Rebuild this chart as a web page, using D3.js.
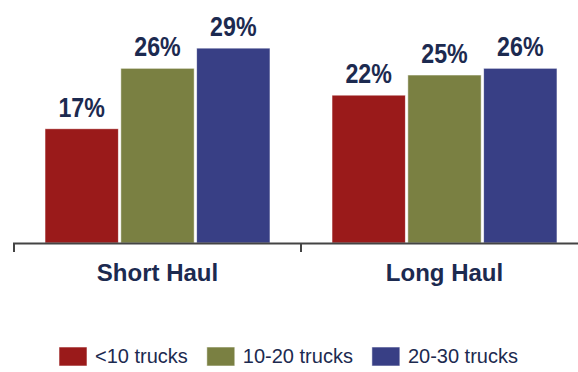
<!DOCTYPE html>
<html>
<head>
<meta charset="utf-8">
<script src="https://cdn.jsdelivr.net/npm/d3@7"></script>
<style>
  html, body { margin: 0; padding: 0; background: #ffffff; }
  svg { display: block; }
</style>
</head>
<body>
<svg id="chart" width="578" height="372"></svg>
<script>
// ---- data ----
const categories = ["Short Haul", "Long Haul"];
const seriesNames = ["<10 trucks", "10-20 trucks", "20-30 trucks"];
const shortHaul = [17, 26, 29];
const longHaul = [22, 25, 26];
const seriesColors = ["#9a1a1a", "#7a8042", "#383f85"];

const values = [shortHaul, longHaul];
const rows = [];
categories.forEach((c, ci) => {
  seriesNames.forEach((s, si) => rows.push({ cat: c, series: s, value: values[ci][si], si }));
});

const svg = d3.select("#chart");
const W = 578, H = 372;
const baseY = 243;
const textColor = "#1c2a50";

const x0 = d3.scaleBand().domain(categories).range([14, 588]).paddingInner(0).paddingOuter(0);
const x1 = d3.scaleBand().domain(seriesNames).range([31, 256]).paddingInner(0.033).paddingOuter(0);
const y = d3.scaleLinear().domain([0, 35]).range([baseY, baseY - 35 * 6.72]);
const color = d3.scaleOrdinal().domain(seriesNames).range(seriesColors);

// bars
svg.append("g").selectAll("rect").data(rows).join("rect")
  .attr("x", d => x0(d.cat) + x1(d.series))
  .attr("y", d => y(d.value))
  .attr("width", x1.bandwidth())
  .attr("height", d => y(0) - y(d.value))
  .attr("fill", d => color(d.series))
  .attr("stroke", "rgba(255,255,255,0.7)")
  .attr("stroke-width", 0.8);

// value labels
svg.append("g").selectAll("text").data(rows).join("text")
  .attr("transform", d => `translate(${x0(d.cat) + x1(d.series) + x1.bandwidth() / 2},${y(d.value) - 12}) scale(0.86,1)`)
  .attr("text-anchor", "middle")
  .attr("font-family", "'Liberation Sans', Arial, sans-serif")
  .attr("font-weight", "bold")
  .attr("font-size", 27)
  .attr("fill", textColor)
  .text(d => d.value + "%");

// x axis
const axis = d3.axisBottom(x0).tickSize(0).tickPadding(21);
const gx = svg.append("g").attr("transform", `translate(0,${baseY})`).call(axis);
gx.select(".domain").remove();
gx.selectAll("text")
  .attr("font-family", "'Liberation Sans', Arial, sans-serif")
  .attr("font-weight", "bold")
  .attr("font-size", 24)
  .attr("fill", textColor);

svg.append("line")
  .attr("x1", 13).attr("x2", W)
  .attr("y1", baseY + 0.5).attr("y2", baseY + 0.5)
  .attr("stroke", "#444").attr("stroke-width", 2);
svg.append("g").selectAll("line").data(categories).join("line")
  .attr("x1", d => x0(d)).attr("x2", d => x0(d))
  .attr("y1", baseY).attr("y2", baseY + 9)
  .attr("stroke", "#444").attr("stroke-width", 2);

// legend
const legend = svg.append("g").attr("transform", "translate(59,347)");
let lx = 0;
seriesNames.forEach((s, i) => {
  const g = legend.append("g").attr("transform", `translate(${lx},0)`);
  g.append("rect").attr("width", 28).attr("height", 19)
    .attr("fill", seriesColors[i])
    .attr("stroke", "rgba(255,255,255,0.7)").attr("stroke-width", 0.8);
  const t = g.append("text").attr("x", 36).attr("y", 16)
    .attr("font-family", "'Liberation Sans', Arial, sans-serif")
    .attr("font-size", 20)
    .attr("fill", textColor)
    .text(s);
  lx += 36 + t.node().getComputedTextLength() + 19;
});
</script>
</body>
</html>
